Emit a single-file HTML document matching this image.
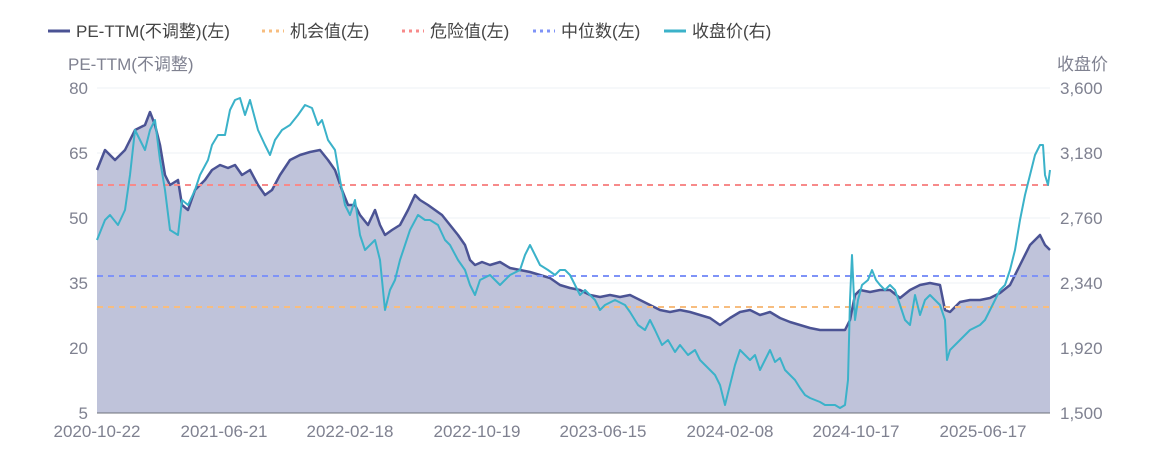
<!DOCTYPE html>
<html><head><meta charset="utf-8"><style>
body{margin:0;background:#fff;width:1156px;height:460px;overflow:hidden}
svg text{font-family:"Liberation Sans","Noto Sans CJK SC",sans-serif;fill:#7f8190}
</style></head><body>
<svg width="1156" height="460" viewBox="0 0 1156 460">
<g font-size="17">
<line x1="48" y1="31" x2="70" y2="31" stroke="#4b5394" stroke-width="3"/><text x="76" y="37" style="fill:#444">PE-TTM(不调整)(左)</text>
<line x1="262" y1="31" x2="284" y2="31" stroke="#f7bd7f" stroke-width="3" stroke-dasharray="3,4"/><text x="290" y="37" style="fill:#444">机会值(左)</text>
<line x1="402" y1="31" x2="424" y2="31" stroke="#f78a8a" stroke-width="3" stroke-dasharray="3,4"/><text x="430" y="37" style="fill:#444">危险值(左)</text>
<line x1="533" y1="31" x2="555" y2="31" stroke="#7f93f7" stroke-width="3" stroke-dasharray="3,4"/><text x="561" y="37" style="fill:#444">中位数(左)</text>
<line x1="664" y1="31" x2="686" y2="31" stroke="#3bb2c9" stroke-width="3"/><text x="692" y="37" style="fill:#444">收盘价(右)</text>
</g>
<text x="68" y="70" font-size="17">PE-TTM(不调整)</text>
<text x="1108" y="70" font-size="17" text-anchor="end">收盘价</text>
<g stroke="#eef0f5" stroke-width="1">
<line x1="97" y1="88" x2="1050" y2="88"/><line x1="97" y1="153" x2="1050" y2="153"/><line x1="97" y1="218" x2="1050" y2="218"/><line x1="97" y1="283" x2="1050" y2="283"/><line x1="97" y1="348" x2="1050" y2="348"/>
</g>
<g font-size="17">
<text x="88" y="94" text-anchor="end">80</text><text x="88" y="159" text-anchor="end">65</text><text x="88" y="224" text-anchor="end">50</text><text x="88" y="289" text-anchor="end">35</text><text x="88" y="354" text-anchor="end">20</text><text x="88" y="419" text-anchor="end">5</text>
<text x="1060" y="94">3,600</text><text x="1060" y="159">3,180</text><text x="1060" y="224">2,760</text><text x="1060" y="289">2,340</text><text x="1060" y="354">1,920</text><text x="1060" y="419">1,500</text>
<text x="97" y="437" text-anchor="middle">2020-10-22</text><text x="224" y="437" text-anchor="middle">2021-06-21</text><text x="350" y="437" text-anchor="middle">2022-02-18</text><text x="477" y="437" text-anchor="middle">2022-10-19</text><text x="603" y="437" text-anchor="middle">2023-06-15</text><text x="730" y="437" text-anchor="middle">2024-02-08</text><text x="856" y="437" text-anchor="middle">2024-10-17</text><text x="983" y="437" text-anchor="middle">2025-06-17</text>
</g>
<polygon fill="#bfc3da" points="97,413 97,170 105,150 115,160 125,150 135,130 145,125 150,112 155,125 160,145 165,175 170,185 178,180 182,205 188,210 195,190 205,180 212,170 220,165 228,168 235,165 242,175 250,170 258,185 265,195 272,190 280,175 290,160 300,155 310,152 320,150 328,160 335,170 342,190 348,205 355,205 360,215 368,225 375,210 380,225 385,235 392,230 400,225 408,210 415,195 420,200 428,205 435,210 442,215 450,225 458,235 465,245 470,260 475,265 482,262 490,265 500,262 510,268 520,270 530,272 540,275 550,278 560,285 570,288 580,290 590,295 600,297 610,295 620,297 630,295 640,300 650,305 660,310 670,312 680,310 690,312 700,315 710,318 720,325 730,318 740,312 750,310 760,315 770,312 780,318 790,322 800,325 810,328 820,330 830,330 845,330 850,320 855,295 860,290 870,292 880,290 890,290 900,298 910,290 920,285 930,283 940,285 945,310 950,312 960,302 970,300 980,300 990,298 1000,293 1010,285 1020,265 1030,245 1040,235 1045,245 1050,250 1050,413"/>
<polyline fill="none" stroke="#4b5394" stroke-width="2.5" stroke-linejoin="round" points="97,170 105,150 115,160 125,150 135,130 145,125 150,112 155,125 160,145 165,175 170,185 178,180 182,205 188,210 195,190 205,180 212,170 220,165 228,168 235,165 242,175 250,170 258,185 265,195 272,190 280,175 290,160 300,155 310,152 320,150 328,160 335,170 342,190 348,205 355,205 360,215 368,225 375,210 380,225 385,235 392,230 400,225 408,210 415,195 420,200 428,205 435,210 442,215 450,225 458,235 465,245 470,260 475,265 482,262 490,265 500,262 510,268 520,270 530,272 540,275 550,278 560,285 570,288 580,290 590,295 600,297 610,295 620,297 630,295 640,300 650,305 660,310 670,312 680,310 690,312 700,315 710,318 720,325 730,318 740,312 750,310 760,315 770,312 780,318 790,322 800,325 810,328 820,330 830,330 845,330 850,320 855,295 860,290 870,292 880,290 890,290 900,298 910,290 920,285 930,283 940,285 945,310 950,312 960,302 970,300 980,300 990,298 1000,293 1010,285 1020,265 1030,245 1040,235 1045,245 1050,250"/>
<line x1="97" y1="413" x2="1050" y2="413" stroke="#6e7079"/>
<line x1="97" y1="185" x2="1050" y2="185" stroke="#f78a8a" stroke-width="2" stroke-dasharray="6,5"/>
<line x1="97" y1="276" x2="1050" y2="276" stroke="#7f93f7" stroke-width="2" stroke-dasharray="6,5"/>
<line x1="97" y1="307" x2="1050" y2="307" stroke="#f7bd7f" stroke-width="2" stroke-dasharray="6,5"/>
<polyline fill="none" stroke="#3bb2c9" stroke-width="2" stroke-linejoin="round" points="97,240 105,220 110,215 118,225 125,210 130,175 135,130 140,140 145,150 150,130 155,120 160,160 165,190 170,230 178,235 182,200 188,205 195,190 200,175 208,160 212,145 218,135 225,135 230,110 235,100 240,98 245,115 250,100 258,130 265,145 270,155 275,140 282,130 290,125 298,115 305,105 312,108 318,125 322,120 328,140 335,150 340,180 345,205 350,215 355,200 360,235 365,250 370,245 375,240 380,260 385,310 390,290 395,280 400,260 405,245 410,230 418,215 425,220 430,220 438,225 445,240 450,245 458,260 465,270 470,285 475,295 480,280 490,275 500,285 510,275 520,270 525,255 530,245 535,255 540,265 548,270 555,275 560,270 565,270 570,275 575,285 580,295 585,290 590,295 595,300 600,310 605,305 615,300 625,305 630,312 638,325 645,330 650,320 655,330 662,345 668,340 675,352 680,345 688,355 695,350 700,360 705,365 710,370 715,375 720,385 725,405 730,385 735,365 740,350 745,355 750,360 755,355 760,370 765,360 770,350 775,362 780,358 785,370 790,375 795,380 800,388 805,395 810,398 815,400 820,402 825,405 830,405 835,405 840,408 845,405 848,380 850,300 852,255 855,320 858,300 862,285 868,280 872,270 876,280 880,285 885,290 890,285 895,290 900,305 905,320 910,325 915,295 920,315 925,300 930,295 935,300 940,305 945,320 947,360 950,350 955,345 960,340 970,330 980,325 985,320 990,310 995,300 1000,290 1005,285 1010,270 1015,250 1020,220 1025,195 1030,175 1035,155 1040,145 1043,145 1045,175 1048,185 1050,170"/>
</svg>
</body></html>
